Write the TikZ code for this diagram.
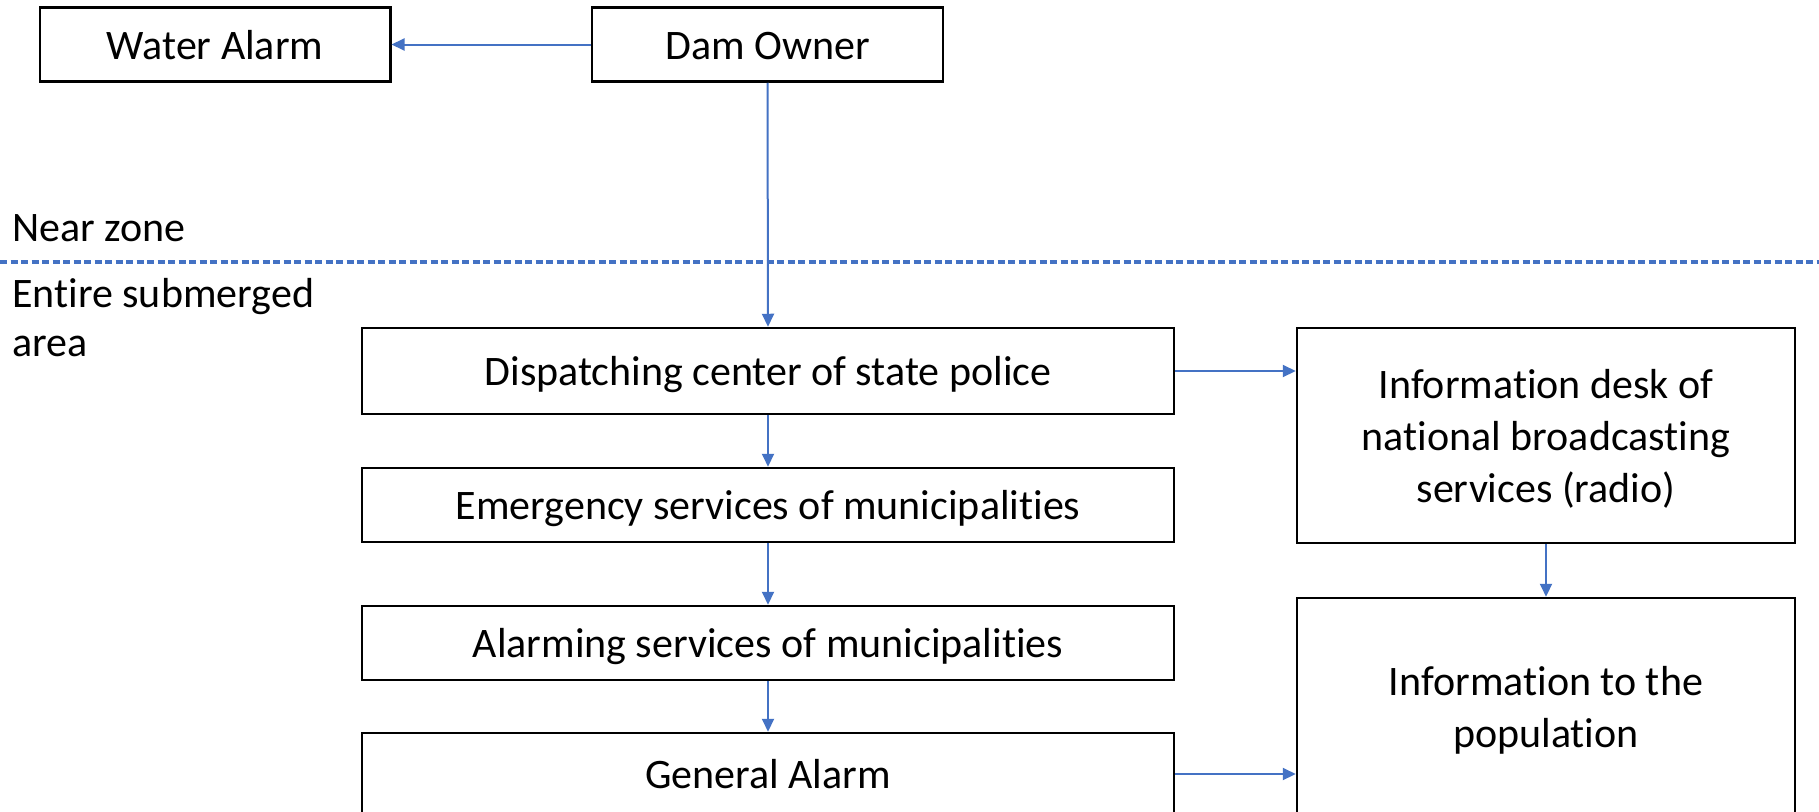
\documentclass[tikz,border=0pt]{standalone}
\usepackage{fontspec}
\setmainfont{Carlito}[Ligatures=NoCommon]
\usetikzlibrary{arrows.meta}
\definecolor{arrowblue}{HTML}{4472C4}
\newcommand{\bxt}[1]{\begin{tabular}{@{}c@{}}\rule{0pt}{44.6pt}#1\end{tabular}}
\tikzset{
  box/.style={draw=black, line width=2.5pt, inner sep=0pt,
    font=\fontsize{42}{52}\selectfont},
  flow/.style={draw=arrowblue, line width=2pt, -{Triangle[length=13pt,width=12pt]}},
  zonelabel/.style={inner sep=0pt, align=left, font=\fontsize{42}{49}\selectfont},
  zoneline/.style={draw=arrowblue, line width=3.2pt, dash pattern=on 7pt off 3.5pt}
}
\begin{document}
\begin{tikzpicture}[x=1pt,y=-1pt]
\clip (0,0) rectangle (1819,811);
\fill[white] (0,0) rectangle (1819,811);
% top row
\node[box, minimum width=350.5pt, minimum height=74pt] (water) at (215,44.5) {\bxt{Water Alarm}};
\node[box, minimum width=351pt, minimum height=74pt] (dam) at (767.5,44.5) {\bxt{Dam Owner}};
% zone labels and separator
\node[zonelabel, anchor=base west] (near) at (12,241) {Near zone};
\node[zonelabel, anchor=base west] (entire) at (12,356) {Entire submerged\\area};
\coordinate (zl) at (0,262);
\coordinate (zr) at (1819,262);
\draw[zoneline] (zl) -- (zr);
% left column
\node[box, minimum width=812pt, minimum height=86pt] (disp) at (768,371) {\bxt{Dispatching center of state police}};
\node[box, minimum width=812pt, minimum height=74pt] (emer) at (768,505) {\bxt{Emergency services of municipalities}};
\node[box, minimum width=812pt, minimum height=74pt] (alarm) at (768,643) {\bxt{Alarming services of municipalities}};
\node[box, minimum width=812pt, minimum height=82pt] (gen) at (768,774) {\bxt{General Alarm}};
% right column
\node[box, minimum width=498pt, minimum height=215pt] (desk) at (1546,435.5) {\bxt{Information desk of\\national broadcasting\\services (radio)}};
\node[box, minimum width=498pt, minimum height=218pt] (pop) at (1546,707) {\bxt{Information to the\\population}};
% connectors
\draw[flow] (dam.west) -- (water.east);
\draw[flow] (dam.south) -- (disp.north);
\draw[flow] (disp.south) -- (emer.north);
\draw[flow] (emer.south) -- (alarm.north);
\draw[flow] (alarm.south) -- (gen.north);
\draw[flow] (disp.east) -- (disp.east -| desk.west);
\draw[flow] (desk.south) -- (pop.north);
\draw[flow] (gen.east) -- (gen.east -| pop.west);
\end{tikzpicture}
\end{document}
